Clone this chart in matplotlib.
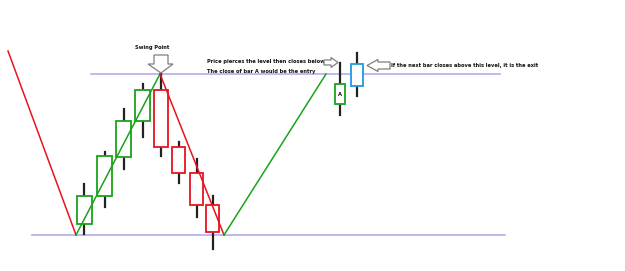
import matplotlib.pyplot as plt
from matplotlib.patches import Rectangle, Polygon

# chart drawn in picture (pixel) units, y grows downwards
W, H = 625, 271

# zig-zag swing lines
red_left_x = [8, 76]
red_left_y = [51, 235]
green_up_x = [76, 160]
green_up_y = [235, 74]
red_down_x = [160, 224]
red_down_y = [74, 235]
green_up2_x = [224, 326]
green_up2_y = [235, 74]

# horizontal levels
low_level = 235
low_span = [32, 505]
high_level = 74
high_span = [91, 500]

# candles: center x, half width, body top, body bottom, wick high, wick low
cx = [84, 104.5, 123.5, 142.5, 161, 178.5, 196.5, 212.5, 340, 357]
half = [7.5, 7.5, 7.5, 7.5, 7, 6.5, 6.5, 6.5, 5, 6]
body_top = [196, 156, 121, 90, 90, 147, 173, 205, 84, 64]
body_bot = [224, 196, 157, 121, 147, 173, 205, 232, 104, 86]
wick_hi = [184, 152, 109, 84, 74, 142, 159, 196, 63, 53]
wick_lo = [234, 207, 169, 137, 156, 183, 217, 249, 115, 96]
kind = ['g', 'g', 'g', 'g', 'r', 'r', 'r', 'r', 'g', 'b']

colors = {'g': '#1aa31a', 'r': '#e8141c', 'b': '#1c9be0'}

fig = plt.figure(figsize=(6.25, 2.71), dpi=100)
ax = fig.add_axes([0, 0, 1, 1])
ax.set_xlim(0, W)
ax.set_ylim(H, 0)
ax.axis('off')

level_color = '#b4aee6'
ax.plot(low_span, [low_level, low_level], color=level_color, lw=1.2, zorder=1)
ax.plot(high_span, [high_level, high_level], color=level_color, lw=1.2, zorder=1)

for i in range(len(cx)):
    ax.plot([cx[i], cx[i]], [wick_hi[i], wick_lo[i]], color='#222222', lw=1.6, zorder=2)
    ax.add_patch(Rectangle((cx[i] - half[i], body_top[i]), 2 * half[i],
                           body_bot[i] - body_top[i], facecolor='white',
                           edgecolor=colors[kind[i]], lw=1.3, zorder=3))

ax.plot(red_left_x, red_left_y, color='#e8141c', lw=1.1, zorder=4)
ax.plot(green_up_x, green_up_y, color='#1aa31a', lw=1.1, zorder=4)
ax.plot(red_down_x, red_down_y, color='#e8141c', lw=1.1, zorder=4)
ax.plot(green_up2_x, green_up2_y, color='#1aa31a', lw=1.1, zorder=4)

# block arrows
arrow_style = dict(facecolor='white', edgecolor='#7f7f7f', lw=0.9, zorder=5)
down_arrow = [(154, 55), (168, 55), (168, 64), (173, 64), (161, 73),
              (148, 64), (154, 64)]
ax.add_patch(Polygon(down_arrow, closed=True, **arrow_style))
right_arrow = [(324, 60), (331, 60), (331, 57.5), (338, 62.5), (331, 67.5),
               (331, 65), (324, 65)]
ax.add_patch(Polygon(right_arrow, closed=True, **arrow_style))
left_arrow = [(390, 62), (378, 62), (378, 59.5), (367, 65.5), (378, 71.5),
              (378, 69), (390, 69)]
ax.add_patch(Polygon(left_arrow, closed=True, **arrow_style))

txt = dict(fontsize=3.7, fontweight='bold', family='Liberation Sans Narrow',
           color='#111111', va='center')
ax.text(340, 94, 'A', ha='center', zorder=4, **txt)
ax.text(152, 47, 'Swing Point', ha='center', **txt)
ax.text(207, 62, 'Price pierces the level then closes below', ha='left', **txt)
ax.text(207, 72, 'The close of bar A would be the entry', ha='left', **txt)
ax.text(391, 65, 'If the next bar closes above this level, it is the exit',
        ha='left', **txt)

fig.savefig('out.png', dpi=100)
